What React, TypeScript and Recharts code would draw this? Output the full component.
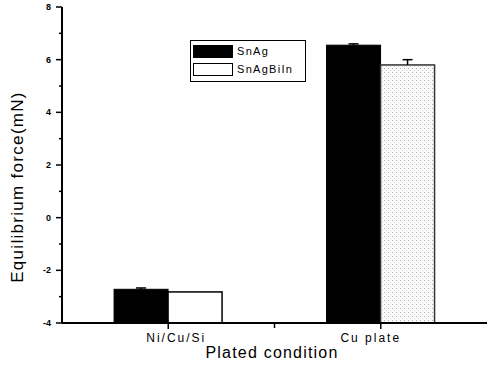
import React from "react";
import { BarChart, Bar, XAxis, YAxis } from "recharts";

// ─── Data ─────────────────────────────────────────────────────────────────────

const categories = ["Ni/Cu/Si", "Cu plate"];
const snAg = [-2.72, 6.55];
const snAgErr = [0.05, 0.05];
const snAgBiIn = [-2.82, 5.8];
const snAgBiInErr = [0, 0.2];
const baseValue = -4;
const yTicks = [-4, -3, -2, -1, 0, 1, 2, 3, 4, 5, 6, 7, 8];

const data = categories.map((c, i) => ({
  name: c,
  snAg: [baseValue, snAg[i]],
  snAgErr: snAgErr[i],
  snAgBiIn: [baseValue, snAgBiIn[i]],
  snAgBiInErr: snAgBiInErr[i],
}));

// ─── Layout ───────────────────────────────────────────────────────────────────

const W = 488;
const H = 367;
const PLOT_LEFT = 62;
const PLOT_RIGHT = 487;
const FONT = "'Liberation Sans', Arial, sans-serif";

// bar shape with its own error bar, scaled from the bar's pixel height
function barShape(errKey: string, fill: string, stroke: string, sw: number) {
  return (props: any) => {
    const { x, y, width, height, payload } = props;
    const [lo, hi] = payload[errKey === "snAgErr" ? "snAg" : "snAgBiIn"];
    const err = payload[errKey] as number;
    const pxPerUnit = height / (hi - lo);
    const e = err * pxPerUnit;
    const cx = x + width / 2;
    return (
      <g>
        <rect
          x={x}
          y={y}
          width={width}
          height={height}
          fill={fill}
          stroke={stroke}
          strokeWidth={sw}
        />
        {e > 0.5 && (
          <g stroke="#000" strokeWidth={1.5}>
            <line x1={cx} x2={cx} y1={y} y2={y - e} />
            <line x1={cx - 5} x2={cx + 5} y1={y - e} y2={y - e} />
          </g>
        )}
      </g>
    );
  };
}

function YTick(props: any) {
  const { x, y, payload } = props;
  const major = payload.value % 2 === 0;
  return (
    <g>
      <line x1={x} x2={x - (major ? 6 : 3)} y1={y} y2={y} stroke="#000" strokeWidth={1.5} />
      {major && (
        <text
          x={x - 11}
          y={y + 3}
          textAnchor="end"
          fontSize={9}
          fontWeight="bold"
          fontFamily={FONT}
          fill="#000"
        >
          {payload.value}
        </text>
      )}
    </g>
  );
}

function XTick(props: any) {
  const { x, y, payload, index } = props;
  const half = (PLOT_RIGHT - PLOT_LEFT) / categories.length / 2;
  return (
    <g>
      <line x1={x} x2={x} y1={y} y2={y + 6} stroke="#000" strokeWidth={1.5} />
      {index === 0 && (
        <line x1={x + half} x2={x + half} y1={y} y2={y + 5} stroke="#000" strokeWidth={1.5} />
      )}
      <text
        x={x + (index === 0 ? 8 : -10)}
        y={y + 19}
        textAnchor="middle"
        fontSize={12}
        letterSpacing={2}
        fontFamily={FONT}
        fill="#000"
      >
        {payload.value}
      </text>
    </g>
  );
}

function LegendBox() {
  const row = (label: string, fill: string) => (
    <div style={{ display: "flex", alignItems: "center", height: 18 }}>
      <div
        style={{
          width: 38,
          height: 11,
          background: fill,
          border: "1px solid #000",
          marginRight: 4,
        }}
      />
      <span style={{ fontSize: 11, letterSpacing: 1.3, fontFamily: FONT }}>{label}</span>
    </div>
  );
  return (
    <div
      style={{
        position: "absolute",
        left: 190,
        top: 40,
        border: "1px solid #000",
        width: 112,
        height: 39,
        padding: "1px 0 0 2px",
        background: "#fff",
        lineHeight: 1,
      }}
    >
      {row("SnAg", "#000")}
      {row("SnAgBiIn", "#fff")}
    </div>
  );
}

export default function App() {
  return (
    <div style={{ position: "absolute", left: 0, top: 0, width: W, height: H, background: "#fff" }}>
      <BarChart
        width={W}
        height={H}
        data={data}
        margin={{ top: 7, right: W - PLOT_RIGHT, left: 0, bottom: 0 }}
        barCategoryGap="24.5%"
        barGap={0}
      >
        <defs>
          <pattern id="stipple" width="4" height="4" patternUnits="userSpaceOnUse">
            <rect width="4" height="4" fill="#fafafa" />
            <rect width="1" height="1" fill="#b0b0b0" />
            <rect x="2" y="2" width="1" height="1" fill="#d8d8d8" />
          </pattern>
        </defs>
        <XAxis
          dataKey="name"
          height={44}
          tickSize={0}
          tickMargin={0}
          axisLine={{ stroke: "#000", strokeWidth: 2 }}
          tickLine={false}
          tick={<XTick />}
          label={{
            content: () => (
              <text
                x={272}
                y={358}
                textAnchor="middle"
                fontSize={16}
                letterSpacing={1.2}
                fontFamily={FONT}
                fill="#000"
              >
                Plated condition
              </text>
            ),
          }}
        />
        <XAxis
          xAxisId="top"
          dataKey="name"
          orientation="top"
          height={0}
          tick={false}
          tickLine={false}
          axisLine={{ stroke: "#000", strokeWidth: 1.5 }}
        />
        <YAxis
          width={PLOT_LEFT}
          domain={[-4, 8]}
          ticks={yTicks}
          interval={0}
          tickSize={0}
          tickMargin={0}
          tickLine={false}
          tick={<YTick />}
          axisLine={{ stroke: "#000", strokeWidth: 2 }}
          label={{
            content: () => (
              <text
                x={23}
                y={187}
                transform="rotate(-90 23 187)"
                textAnchor="middle"
                fontSize={17}
                letterSpacing={1.3}
                fontFamily={FONT}
                fill="#000"
              >
                Equilibrium force(mN)
              </text>
            ),
          }}
        />
        <YAxis
          yAxisId="right"
          orientation="right"
          width={0}
          domain={[-4, 8]}
          tick={false}
          tickLine={false}
          axisLine={{ stroke: "#000", strokeWidth: 1.5 }}
        />
        <Bar
          dataKey="snAg"
          name="SnAg"
          isAnimationActive={false}
          shape={barShape("snAgErr", "#000", "#000", 1)}
        />
        <Bar
          dataKey="snAgBiIn"
          name="SnAgBiIn"
          isAnimationActive={false}
          shape={(p: any) =>
            barShape(
              "snAgBiInErr",
              p.index === 0 ? "#fff" : "url(#stipple)",
              p.index === 0 ? "#000" : "#333",
              1.5
            )(p)
          }
        />
      </BarChart>
      <LegendBox />
    </div>
  );
}
